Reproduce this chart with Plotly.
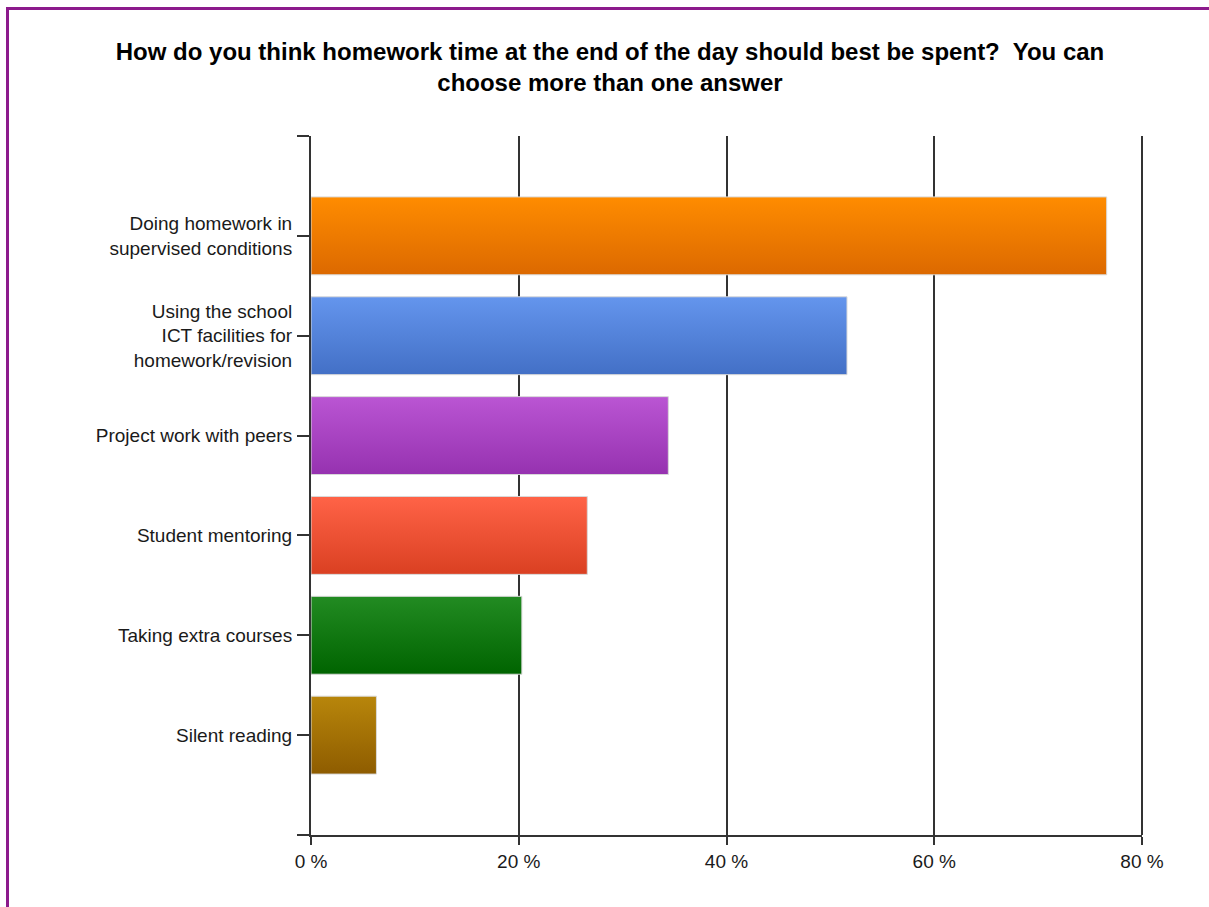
import plotly.graph_objects as go

# Survey answers (share of respondents, %)
categories = [
    "Doing homework in<br>supervised conditions",
    "Using the school<br>ICT facilities for<br>homework/revision",
    "Project work with peers",
    "Student mentoring",
    "Taking extra courses",
    "Silent reading",
]
percentages = [76.6, 51.6, 34.4, 26.6, 20.3, 6.3]

# top / bottom shade of each bar's vertical gradient
top_colors = ["#FF8C00", "#6495ED", "#BA55D3", "#FF6347", "#228B22", "#B8860B"]
bottom_colors = ["#DC6900", "#4370C6", "#9632B0", "#DA4022", "#006400", "#8E5C00"]

x_ticks = [0, 20, 40, 60, 80]
x_tick_labels = [f"{v} %" for v in x_ticks]

title_text = ("How do you think homework time at the end of the day should best be spent?"
              "\u00a0 You can<br>choose more than one answer")

HALF = 0.39  # half bar thickness in category units

fig = go.Figure()
for i, (label, val) in enumerate(zip(categories, percentages)):
    y0, y1 = i - HALF, i + HALF
    fig.add_trace(go.Scatter(
        x=[0, val, val, 0, 0],
        y=[y0, y0, y1, y1, y0],
        mode="lines",
        fill="toself",
        fillgradient=dict(
            type="vertical",
            colorscale=[[0, bottom_colors[i]], [1, top_colors[i]]],
            start=y1,
            stop=y0,
        ),
        line=dict(color="#D9D9D9", width=1),
        name=label.replace("<br>", " "),
        hovertemplate=f"{label.replace('<br>', ' ')}: {val}%<extra></extra>",
        showlegend=False,
    ))

tick_vals_y = [-1] + list(range(len(categories))) + [len(categories)]
tick_text_y = [""] + categories + [""]

fig.update_layout(
    width=1209,
    height=907,
    margin=dict(l=311, r=67, t=136, b=72),
    paper_bgcolor="white",
    plot_bgcolor="white",
    font=dict(family="Liberation Sans, Arial, sans-serif", size=19, color="#1A1A1A"),
    title=dict(
        text=title_text,
        x=610 / 1209,
        xref="container",
        xanchor="center",
        y=1 - 60 / 907,
        yref="container",
        yanchor="middle",
        font=dict(family="Liberation Sans, Arial, sans-serif", size=24, color="black",
                  weight="bold"),
    ),
    xaxis=dict(
        range=[x_ticks[0], x_ticks[-1]],
        tickvals=x_ticks,
        ticktext=x_tick_labels,
        showgrid=True,
        gridcolor="#333333",
        gridwidth=2,
        zeroline=False,
        showline=True,
        linecolor="#333333",
        linewidth=2,
        ticks="outside",
        ticklen=8,
        tickcolor="#333333",
        tickwidth=2,
        fixedrange=True,
    ),
    yaxis=dict(
        range=[len(categories), -1],
        tickvals=tick_vals_y,
        ticktext=tick_text_y,
        showgrid=False,
        zeroline=False,
        showline=True,
        linecolor="#333333",
        linewidth=2,
        ticks="outside",
        ticklen=12,
        tickcolor="#333333",
        tickwidth=2,
        ticklabelstandoff=1,
        fixedrange=True,
    ),
    shapes=[
        # gridline along the right edge of the plot area
        dict(type="line", xref="paper", yref="paper",
             x0=1, x1=1, y0=0, y1=1,
             line=dict(color="#333333", width=2), layer="below"),
        # purple frame around the chart
        dict(type="rect", xref="paper", yref="paper",
             x0=(7.5 - 311) / 831, x1=1.12,
             y0=-0.14, y1=(835 - 8.5) / 699,
             line=dict(color="#8C1A8C", width=3),
             fillcolor="rgba(0,0,0,0)", layer="above"),
    ],
)

fig.write_html("out.html")
